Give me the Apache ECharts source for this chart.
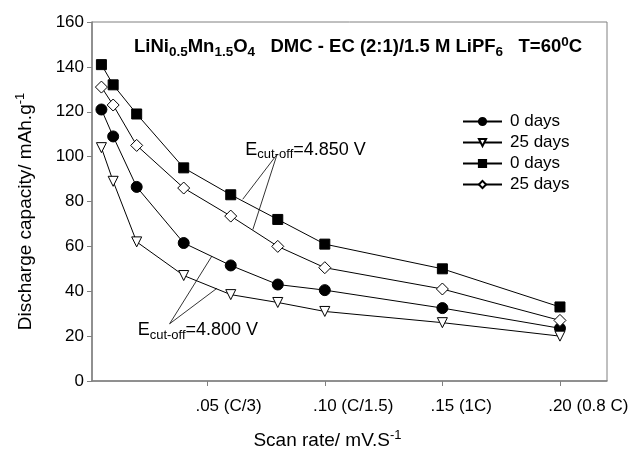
<!DOCTYPE html>
<html><head><meta charset="utf-8">
<script src="https://cdn.jsdelivr.net/npm/echarts@6/dist/echarts.min.js"></script>
<style>html,body{margin:0;padding:0;background:#fff}#c{width:632px;height:455px}</style>
</head><body><div id="c"></div>
<script>
// ---- data ----
const scanRates = [0.005, 0.01, 0.02, 0.04, 0.06, 0.08, 0.10, 0.15, 0.20];
const e4800day0  = [121, 109, 86.5, 61.5, 51.5, 43, 40.5, 32.5, 23.5];
const e4800day25 = [104, 89, 62, 47, 38.5, 35, 31, 26, 20];
const e4850day0  = [141, 132, 119, 95, 83, 72, 61, 50, 33];
const e4850day25 = [131, 123, 105, 86, 73.5, 60, 50.5, 41, 27];
const legendLabels = ['0 days', '25 days', '0 days', '25 days'];
const xTickValues = [0.05, 0.10, 0.15, 0.20];
const xTickNums = ['.05', '.10', '.15', '.20'];
const xTickNotes = [' (C/3)', ' (C/1.5)', ' (1C)', ' (0.8 C)'];
const yTicks = [0, 20, 40, 60, 80, 100, 120, 140, 160];
// annotation leader lines (data coords)
const leader4850 = [[[0.0797, 101], [0.0651, 81]], [[0.0797, 101], [0.0694, 67.5]]];
const leader4800 = [[[0.034, 25.5], [0.052, 55.7]], [[0.034, 25.5], [0.0541, 41.3]]];
const label4850 = [0.066, 103];
const label4800 = [0.0202, 22.5];

const FONT = '"Liberation Sans", Arial, Helvetica, sans-serif';
const ctx = document.createElement('canvas').getContext('2d');
ctx.font = '17px "Liberation Sans"';
const rich = { n: { fontSize: 17, fontFamily: FONT, color: '#000' }, s: { fontSize: 17, fontFamily: FONT, color: '#000' } };
xTickNotes.forEach((t, i) => { rich['p' + i] = { width: ctx.measureText(t).width, fontSize: 17 }; });

const supSub = {
  b: { fontSize: 18.5, fontWeight: 'bold', fontFamily: FONT, color: '#000' },
  bsub: { fontSize: 13.5, fontWeight: 'bold', fontFamily: FONT, color: '#000', padding: [10, 0, 0, 0] },
  bsup: { fontSize: 13.5, fontWeight: 'bold', fontFamily: FONT, color: '#000', padding: [0, 0, 10, 0] },
  t: { fontSize: 18, fontFamily: FONT, color: '#000' },
  sub: { fontSize: 13, fontFamily: FONT, color: '#000', padding: [10, 0, 0, 0] },
  sup: { fontSize: 12, fontFamily: FONT, color: '#000', padding: [0, 0, 10, 0] },
  at: { fontSize: 19, fontFamily: FONT, color: '#000' },
  asup: { fontSize: 13, fontFamily: FONT, color: '#000', padding: [0, 0, 10, 0] }
};

const chart = echarts.init(document.getElementById('c'), null, { renderer: 'canvas' });
const lineBase = { type: 'line', showAllSymbol: true, animation: false,
  lineStyle: { color: '#000', width: 1 }, z: 3 };
function mk(name, vals, symbol, size, filled, rotate) {
  return Object.assign({}, lineBase, {
    name, data: scanRates.map((x, i) => [x, vals[i]]),
    symbol, symbolSize: size, symbolRotate: rotate || 0,
    itemStyle: { color: filled ? '#000' : '#fff', borderColor: '#000', borderWidth: 1 }
  });
}
const s1 = mk('a 0 days', e4800day0, 'circle', 11, true);
const s2 = mk('b 25 days', e4800day25, 'triangle', 10, false, 180);
const s3 = mk('c 0 days', e4850day0, 'rect', 10, true);
const s4 = mk('d 25 days', e4850day25, 'diamond', 12, false);
const leaders = leader4850.concat(leader4800).map(p => [{ coord: p[0] }, { coord: p[1] }]);
s1.markLine = { silent: true, animation: false, symbol: ['none', 'none'],
  lineStyle: { color: '#000', width: 0.8, type: 'solid' }, label: { show: false }, data: leaders };
s1.markPoint = { silent: true, animation: false, symbol: 'circle', symbolSize: 1,
  itemStyle: { color: 'rgba(0,0,0,0)' },
  data: [
    { coord: label4850, label: { show: true, position: 'right', distance: 0, formatter: '{t|E}{sub|cut-off}{t|=4.850 V}', rich: supSub } },
    { coord: label4800, label: { show: true, position: 'right', distance: 0, formatter: '{t|E}{sub|cut-off}{t|=4.800 V}', rich: supSub } }
  ] };

chart.setOption({
  backgroundColor: '#fff',
  textStyle: { fontFamily: FONT },
  grid: { left: 92, right: 25, top: 22, bottom: 73, show: true, borderColor: '#808080', borderWidth: 1 },
  title: { left: 134, top: 35, padding: 0, text: '{b|LiNi}{bsub|0.5}{b|Mn}{bsub|1.5}{b|O}{bsub|4}{b|   DMC - EC (2:1)/1.5 M LiPF}{bsub|6}{b|   T=60}{bsup|0}{b|C}',
    textStyle: { rich: supSub } },
  legend: { orient: 'vertical', left: 462, top: 113, padding: 0, itemWidth: 39, itemHeight: 9, itemGap: 4,
    formatter: n => legendLabels[['a', 'b', 'c', 'd'].indexOf(n[0])],
    textStyle: { fontSize: 17, fontFamily: FONT, color: '#000', padding: [0, 0, 0, 3] },
    data: ['a 0 days', 'b 25 days', 'c 0 days', 'd 25 days'] },
  xAxis: { type: 'value', min: 0.001, max: 0.22,
    name: '{at|Scan rate/ mV.S}{asup|-1}', nameLocation: 'middle', nameGap: 48,
    nameTextStyle: { rich: supSub, padding: [0, 44, 0, 0] },
    axisLine: { show: true, lineStyle: { color: '#808080', width: 1.5 } },
    axisTick: { show: true, length: 5, customValues: xTickValues, lineStyle: { color: '#808080' } },
    axisLabel: { customValues: xTickValues, margin: 17, rich,
      formatter: v => { const i = xTickValues.findIndex(t => Math.abs(t - v) < 1e-6); return i < 0 ? '' : `{p${i}|}{n|${xTickNums[i]}}{s|${xTickNotes[i]}}`; } },
    splitLine: { show: false } },
  yAxis: { type: 'value', min: yTicks[0], max: yTicks[yTicks.length - 1], interval: 20,
    name: '{at|Discharge capacity/ mAh.g}{asup|-1}', nameLocation: 'middle', nameGap: 55, nameRotate: 90,
    nameTextStyle: { rich: supSub, padding: [0, 20, 0, 0] },
    axisLine: { show: true, lineStyle: { color: '#808080', width: 1.5 } },
    axisTick: { show: true, length: 5, lineStyle: { color: '#808080' } },
    axisLabel: { fontSize: 17, color: '#000', margin: 8, fontFamily: FONT },
    splitLine: { show: false } },
  series: [s1, s2, s3, s4]
});
</script></body></html>
